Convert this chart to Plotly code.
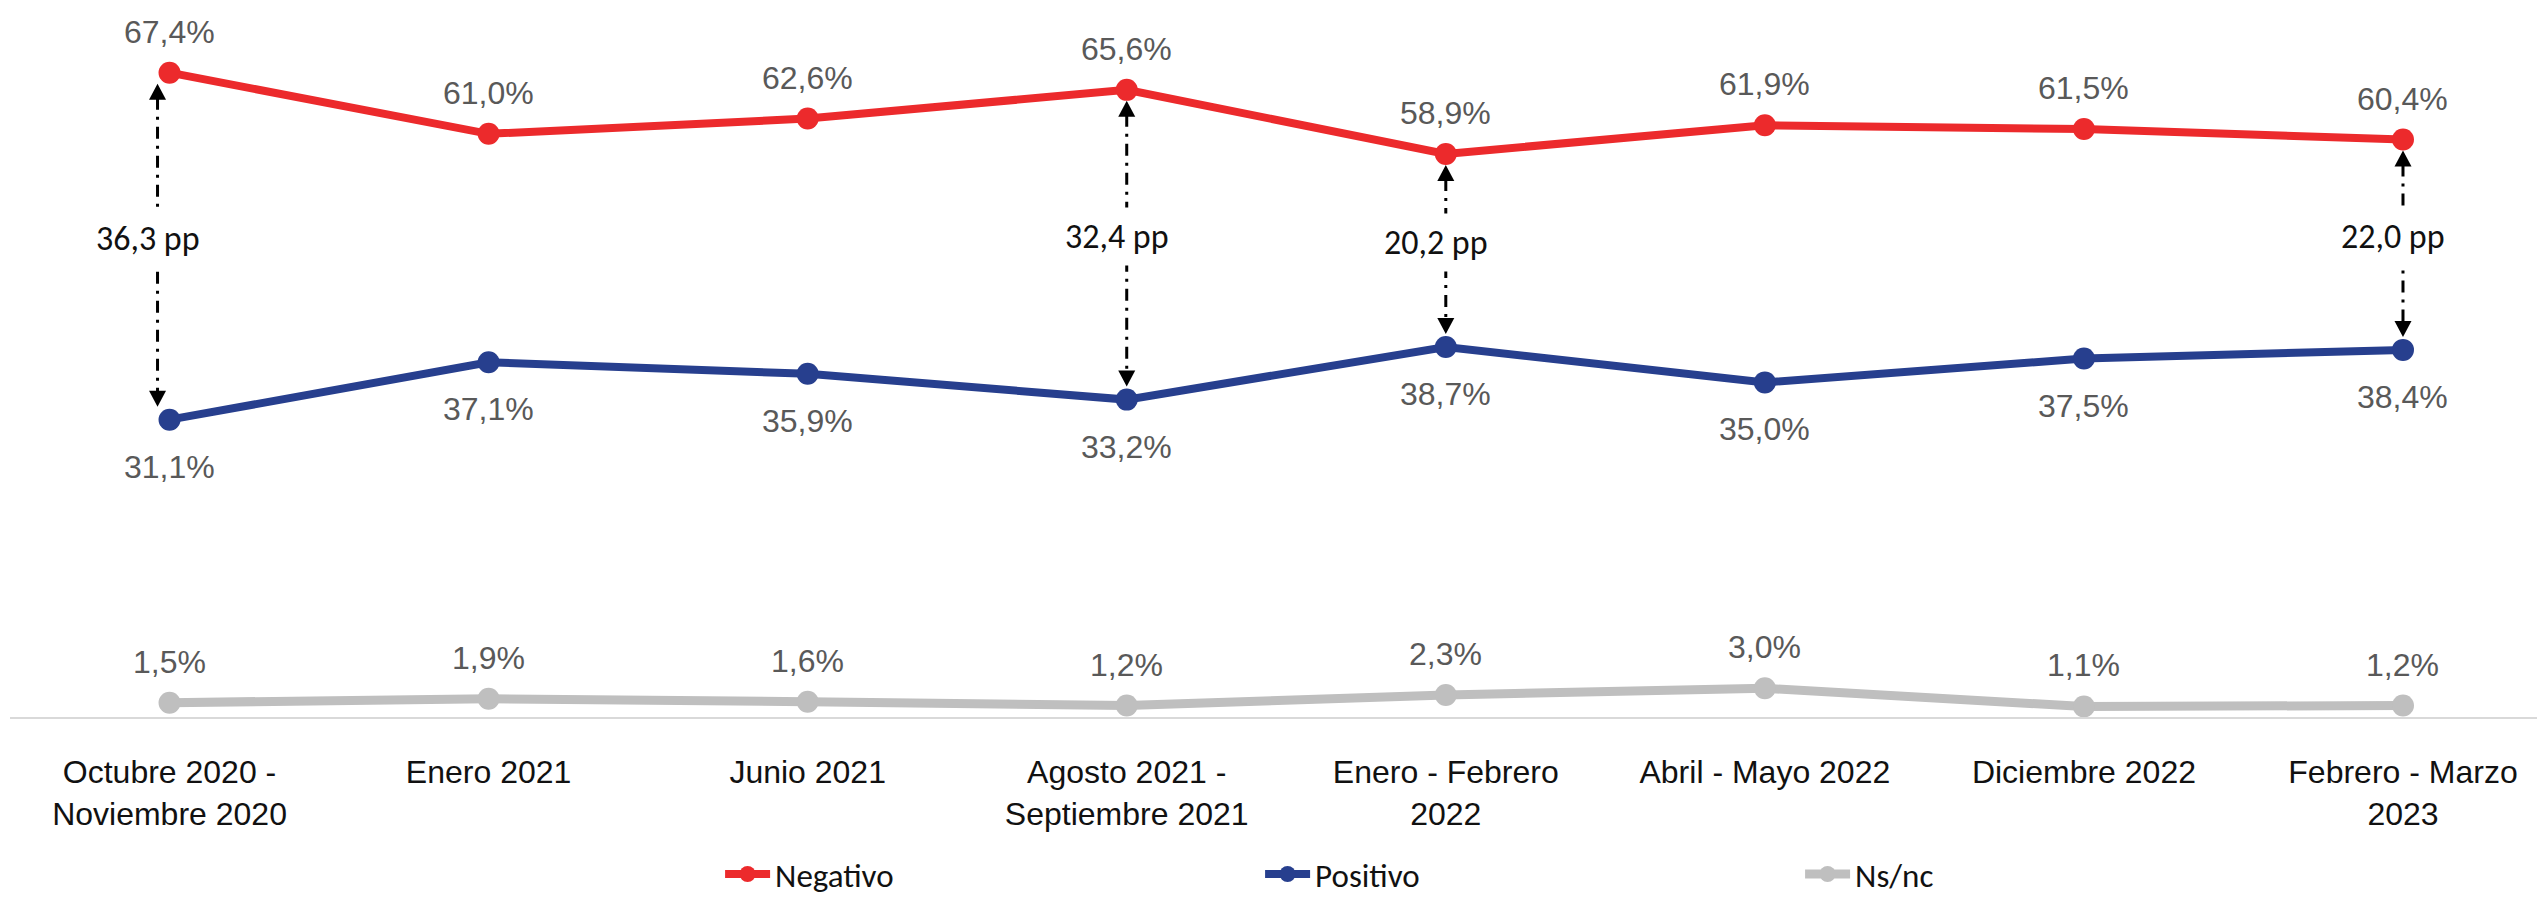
import plotly.graph_objects as go

# ---- data -------------------------------------------------------------
periodos = [
    "Octubre 2020 -<br>Noviembre 2020",
    "Enero 2021",
    "Junio 2021",
    "Agosto 2021 -<br>Septiembre 2021",
    "Enero - Febrero<br>2022",
    "Abril - Mayo 2022",
    "Diciembre 2022",
    "Febrero - Marzo<br>2023",
]
negativo = [67.4, 61.0, 62.6, 65.6, 58.9, 61.9, 61.5, 60.4]
positivo = [31.1, 37.1, 35.9, 33.2, 38.7, 35.0, 37.5, 38.4]
nsnc = [1.5, 1.9, 1.6, 1.2, 2.3, 3.0, 1.1, 1.2]
periodos_brecha = [0, 3, 4, 7]  # periods where the Negativo-Positivo gap is marked

# ---- layout constants -------------------------------------------------
W, H = 2537, 903
M_L, M_R, M_T, M_B = 10, 0, 0, 186
X_RANGE = [-0.5, 7.42]
Y_RANGE = [0, 75]
PX_PER_UNIT = (H - M_T - M_B) / (Y_RANGE[1] - Y_RANGE[0])
PX_PER_CAT = (W - M_L - M_R) / (X_RANGE[1] - X_RANGE[0])

ROJO = "#EC2A2C"
AZUL = "#273F8E"
GRIS = "#BFBFBF"

LABEL_FONT = dict(family="Liberation Sans, Arial, sans-serif", size=32, color="#595959")
TICK_FONT = dict(family="Liberation Sans, Arial, sans-serif", size=32, color="#111111")
PP_FONT = dict(family="Carlito, Calibri, Lato, sans-serif", size=34, color="#111111")
LEGEND_FONT = dict(family="Carlito, Calibri, Lato, sans-serif", size=33, color="#111111")


def pct(v):
    return f"{v:.1f}".replace(".", ",") + "%"


def pp(v):
    return f"{v:.1f}".replace(".", ",") + " pp"


x = list(range(len(periodos)))
fig = go.Figure()

series = [
    ("Negativo", negativo, ROJO, 8),
    ("Positivo", positivo, AZUL, 8),
    ("Ns/nc", nsnc, GRIS, 9),
]
for nombre, valores, color, ancho in series:
    fig.add_trace(
        go.Scatter(
            x=x,
            y=valores,
            name=nombre,
            mode="lines+markers",
            line=dict(color=color, width=ancho),
            marker=dict(color=color, size=22),
            hoverinfo="skip",
        )
    )

# value labels
for valores, shift in ((negativo, 41), (positivo, -47), (nsnc, 41)):
    for i, v in enumerate(valores):
        fig.add_annotation(
            x=i, y=v, text=pct(v), showarrow=False, yshift=shift, font=LABEL_FONT
        )

# gap arrows between Negativo and Positivo
GAP_TOP, GAP_BOT = 11, 13
HEAD_W, HEAD_H = 17, 16
for i in periodos_brecha:
    top, bot = negativo[i], positivo[i]
    dx = -12 if i == 0 else 0  # first arrow sits slightly left of its markers
    xa = i + dx / PX_PER_CAT
    fig.add_shape(
        type="line",
        xref="x", yref="y",
        x0=xa, x1=xa,
        y0=top - (GAP_TOP + HEAD_H - 2) / PX_PER_UNIT,
        y1=bot + (GAP_BOT + HEAD_H - 2) / PX_PER_UNIT,
        line=dict(color="black", width=3, dash="12px,7px,3px,7px"),
    )
    fig.add_shape(
        type="path",
        xref="x", yref="y",
        xsizemode="pixel", ysizemode="pixel",
        xanchor=xa, yanchor=top,
        path=f"M0,{-GAP_TOP} L{-HEAD_W / 2},{-GAP_TOP - HEAD_H} L{HEAD_W / 2},{-GAP_TOP - HEAD_H} Z",
        fillcolor="black",
        line=dict(width=0),
    )
    fig.add_shape(
        type="path",
        xref="x", yref="y",
        xsizemode="pixel", ysizemode="pixel",
        xanchor=xa, yanchor=bot,
        path=f"M0,{GAP_BOT} L{-HEAD_W / 2},{GAP_BOT + HEAD_H} L{HEAD_W / 2},{GAP_BOT + HEAD_H} Z",
        fillcolor="black",
        line=dict(width=0),
    )
    fig.add_annotation(
        x=xa, y=(top + bot) / 2, yshift=8, xshift=-10,
        text=pp(top - bot), showarrow=False,
        bgcolor="white", borderpad=8, font=PP_FONT,
    )

fig.update_layout(
    width=W,
    height=H,
    autosize=False,
    margin=dict(l=M_L, r=M_R, t=M_T, b=M_B, pad=0, autoexpand=False),
    paper_bgcolor="white",
    plot_bgcolor="white",
    showlegend=True,
    legend=dict(
        orientation="h",
        x=0.281,
        xanchor="left",
        y=-0.219,
        yanchor="middle",
        font=LEGEND_FONT,
        entrywidth=480,
        itemwidth=45,
        bgcolor="rgba(0,0,0,0)",
    ),
    xaxis=dict(
        range=X_RANGE,
        tickmode="array",
        tickvals=x,
        ticktext=periodos,
        tickfont=TICK_FONT,
        showgrid=False,
        zeroline=False,
        showline=True,
        linecolor="#D9D9D9",
        linewidth=2,
        ticks="",
        ticklabelstandoff=26,
        automargin=False,
        fixedrange=True,
    ),
    yaxis=dict(
        range=Y_RANGE,
        showgrid=False,
        zeroline=False,
        showline=False,
        showticklabels=False,
        ticks="",
        automargin=False,
        fixedrange=True,
    ),
)

fig.write_html("out.html")
